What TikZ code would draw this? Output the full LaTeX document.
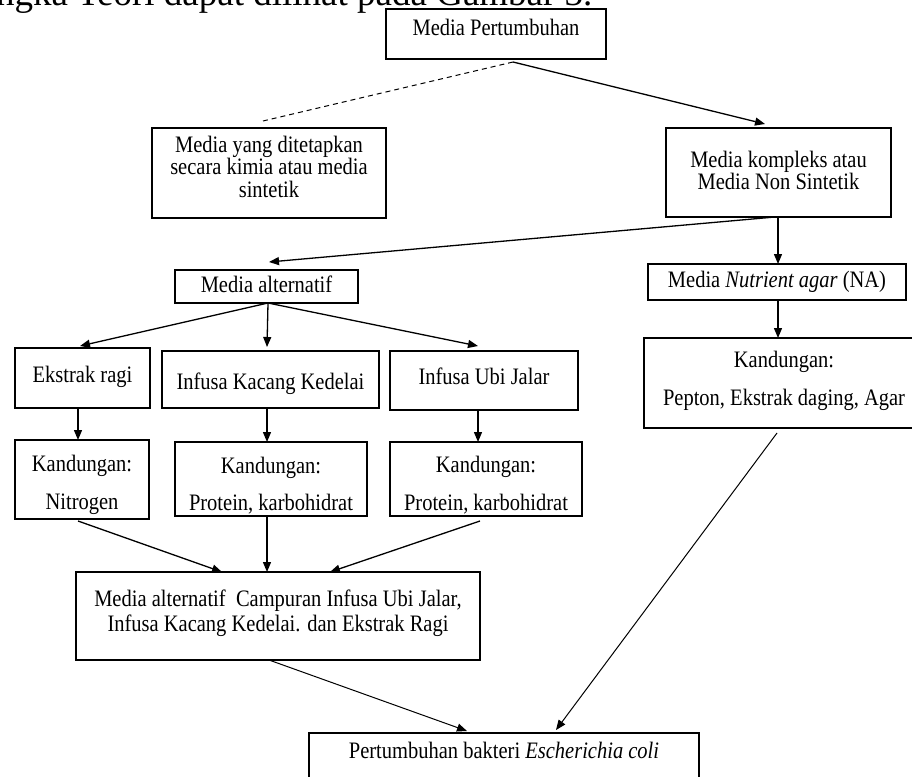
\documentclass[tikz,border=0pt]{standalone}
\usepackage{fontspec}
\usepackage{graphicx}
\setmainfont{Liberation Serif}
\usetikzlibrary{arrows.meta}
% multi-line centred block; #1 = baseline pitch (pt), #2 = lines separated by \cr
\newcommand\ml[2]{\vtop{\baselineskip=#1pt\lineskiplimit=-100pt\lineskip=0pt\halign{\hfil##\hfil\cr#2\crcr}}}
\newcommand\st[1]{\scalebox{1}[1.15]{#1}}
% \bx{name}{x1}{y1}{x2}{y2}{first baseline}{content}
\newcommand\bx[7]{%
  \pgfmathsetmacro\dyv{(#3+#5)/2-#6}%
  \node[box, minimum width={#4-#2}, minimum height={#5-#3}] (#1) at ({(#2+#4)/2},{(#3+#5)/2}) {\raisebox{\dyv pt}[0pt][0pt]{\st{#7}}};}
\begin{document}
\begin{tikzpicture}[x=1pt,y=-1pt,
  every node/.style={font=\fontsize{20.5}{23}\selectfont, inner sep=0pt, outer sep=0pt},
  box/.style={draw, line width=1.4pt, rectangle},
  arr/.style={-{Triangle[length=10pt,width=8pt]}, line width=1.3pt},
  thinarr/.style={-{Triangle[length=10pt,width=8pt]}, line width=1pt},
  dashline/.style={dash pattern=on 5pt off 4pt, line width=1pt}]
\useasboundingbox (0,0) rectangle (912,776);
\clip (0,0) rectangle (912,776);
\fill[white] (0,0) rectangle (912,776);

\node[anchor=base west, font=\fontsize{37}{40}\selectfont] (intro) at (-4,6) {ngka Teori dapat dilihat pada Gambar 3.};

\bx{A}{386}{9}{606}{59}{36}{Media Pertumbuhan}
\bx{B}{152}{128}{386}{218}{152}{\ml{19.6}{Media yang ditetapkan\cr secara kimia atau media\cr sintetik}}
\bx{C}{666}{128}{891}{217}{167}{\ml{19.5}{Media kompleks atau\cr Media Non Sintetik}}
\bx{D}{175}{270}{358}{303}{292}{Media alternatif}
\bx{E}{648}{264}{906}{300}{287}{Media \textit{Nutrient agar} (NA)}
\bx{F}{15}{348}{150}{408}{382}{Ekstrak ragi}
\bx{G}{162}{351}{379}{408}{389}{Infusa Kacang Kedelai}
\bx{H}{390}{351}{578}{410}{384}{Infusa Ubi Jalar}
\bx{I}{644}{338}{924}{428}{367}{\ml{33.04}{Kandungan:\cr Pepton, Ekstrak daging, Agar}}
\bx{J}{15}{440}{149}{519}{471}{\ml{33.04}{Kandungan:\cr Nitrogen}}
\bx{K}{175}{442}{367}{516}{473}{\ml{32.6}{Kandungan:\cr Protein, karbohidrat}}
\bx{L}{390}{442}{582}{516}{472}{\ml{33.04}{Kandungan:\cr Protein, karbohidrat}}
\bx{M}{76}{572}{480}{660}{606}{\ml{21.74}{Media alternatif\ \ Campuran Infusa Ubi Jalar,\cr Infusa Kacang Kedelai. dan Ekstrak Ragi}}
\bx{N}{309}{733}{699}{800}{758}{Pertumbuhan bakteri \textit{Escherichia coli}}

% connector end points
\coordinate (a-out) at (513,62);
\coordinate (b-in) at (263,121);
\coordinate (c-in) at (765,124);
\coordinate (c-out1) at (775,217);
\coordinate (c-out2) at (778,217);
\coordinate (d-in) at (269,262);
\coordinate (e-in) at (778,264);
\coordinate (d-out) at (268,303);
\coordinate (f-in) at (80,346);
\coordinate (g-in) at (267,347);
\coordinate (h-in) at (478,346);
\coordinate (e-out) at (778,300);
\coordinate (i-in) at (778,338);
\coordinate (f-out) at (78,408);
\coordinate (j-in) at (78,440);
\coordinate (g-out) at (267,408);
\coordinate (k-in) at (267,442);
\coordinate (h-out) at (478,410);
\coordinate (l-in) at (478,442);
\coordinate (j-out) at (78,521);
\coordinate (m-in1) at (222,572);
\coordinate (k-out) at (267,516);
\coordinate (m-in2) at (267,572);
\coordinate (l-out) at (480,521);
\coordinate (m-in3) at (330,572);
\coordinate (m-out) at (269,660);
\coordinate (n-in1) at (467,731);
\coordinate (i-out) at (777,433);
\coordinate (n-in2) at (556,730);

\draw[dashline] (a-out) -- (b-in);
\draw[arr] (a-out) -- (c-in);
\draw[arr] (c-out1) -- (d-in);
\draw[arr] (c-out2) -- (e-in);
\draw[arr] (d-out) -- (f-in);
\draw[arr] (d-out) -- (g-in);
\draw[arr] (d-out) -- (h-in);
\draw[arr] (e-out) -- (i-in);
\draw[arr] (f-out) -- (j-in);
\draw[arr] (g-out) -- (k-in);
\draw[arr] (h-out) -- (l-in);
\draw[arr] (j-out) -- (m-in1);
\draw[arr] (k-out) -- (m-in2);
\draw[arr] (l-out) -- (m-in3);
\draw[thinarr] (m-out) -- (n-in1);
\draw[thinarr] (i-out) -- (n-in2);
\end{tikzpicture}
\end{document}
